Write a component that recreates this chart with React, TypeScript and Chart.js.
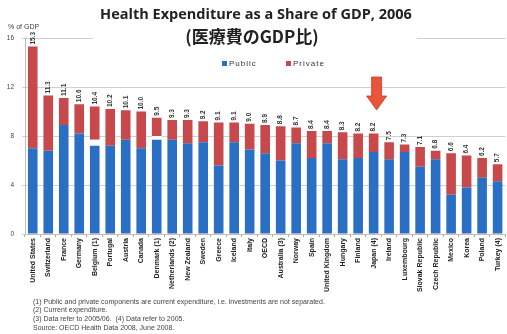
import React, { useEffect, useRef } from "react";
import { Chart, registerables } from "chart.js";

Chart.register(...registerables);

const categories = [
  "United States", "Switzerland", "France", "Germany", "Belgium (1)", "Portugal", "Austria", "Canada",
  "Denmark (1)", "Netherlands (2)", "New Zealand", "Sweden", "Greece", "Iceland", "Italy", "OECD",
  "Australia (3)", "Norway", "Spain", "United Kingdom", "Hungary", "Finland", "Japan (4)", "Ireland",
  "Luxembourg", "Slovak Republic", "Czech Republic", "Mexico", "Korea", "Poland", "Turkey (4)",
];

const totalShare = [
  15.3, 11.3, 11.1, 10.6, 10.4, 10.2, 10.1, 10.0, 9.5, 9.3, 9.3, 9.2, 9.1, 9.1, 9.0, 8.9,
  8.8, 8.7, 8.4, 8.4, 8.3, 8.2, 8.2, 7.5, 7.3, 7.1, 6.8, 6.6, 6.4, 6.2, 5.7,
];

const publicShare = [
  7.0, 6.8, 8.9, 8.2, 7.2, 7.2, 7.7, 7.0, 7.7, 7.7, 7.4, 7.5, 5.6, 7.5, 6.9, 6.6,
  6.0, 7.4, 6.2, 7.4, 6.1, 6.2, 6.7, 6.1, 6.7, 5.5, 6.1, 3.2, 3.8, 4.6, 4.3,
];

const gapShare = [
  0, 0, 0, 0, 0.5, 0, 0, 0, 0.3, 0, 0, 0, 0, 0, 0, 0,
  0, 0, 0, 0, 0, 0, 0, 0, 0, 0, 0, 0, 0, 0, 0,
];

const privateShare = totalShare.map((t, i) => +(t - publicShare[i] - gapShare[i]).toFixed(2));

const yTicks = [0, 4, 8, 12, 16];

const highlightIndex = 22;

const footnotes = [
  "(1) Public and private components are current expenditure, i.e. investments are not separated.",
  "(2) Current expenditure.",
  "(3) Data refer to 2005/06.  (4) Data refer to 2005.",
  "Source: OECD Health Data 2008, June 2008.",
];

const BLUE = "#2a6fc3";
const RED = "#c8494b";
const FONT = "'Liberation Sans', Arial, sans-serif";

const overlay = {
  id: "overlay",
  afterDatasetsDraw(chart: any) {
    const ctx = chart.ctx;
    const meta = chart.getDatasetMeta(0);
    const y = chart.scales.y;
    ctx.save();
    ctx.font = `bold 6.5px ${FONT}`;
    ctx.fillStyle = "#333";
    ctx.textAlign = "left";
    ctx.textBaseline = "middle";
    meta.data.forEach((el: any, i: number) => {
      const top = y.getPixelForValue(totalShare[i]);
      ctx.save();
      ctx.translate(el.x, top - 2);
      ctx.rotate(-Math.PI / 2);
      ctx.fillText(totalShare[i].toFixed(1), 0, 0);
      ctx.restore();
    });
    ctx.restore();
  },
  afterDraw(chart: any) {
    const ctx = chart.ctx;
    ctx.save();
    // cover gridline behind title
    ctx.fillStyle = "#ffffff";
    ctx.fillRect(93, 28, 324, 18);
    ctx.fillStyle = "#222";
    ctx.textAlign = "center";
    ctx.textBaseline = "middle";
    ctx.font = `bold 14.5px 'Open Sans', ${FONT}`;
    ctx.fillText("Health Expenditure as a Share of GDP, 2006", 256, 15);
    ctx.font = `bold 17px 'Noto Sans CJK JP', sans-serif`;
    ctx.fillText("(医療費のGDP比)", 252, 37);

    // legend
    ctx.font = `8px ${FONT}`;
    (ctx as any).letterSpacing = "1px";
    ctx.textAlign = "left";
    ctx.fillStyle = BLUE;
    ctx.fillRect(222, 61, 5, 5);
    ctx.fillStyle = "#333";
    ctx.fillText("Public", 229, 64);
    ctx.fillStyle = RED;
    ctx.fillRect(286, 61, 5, 5);
    ctx.fillStyle = "#333";
    ctx.fillText("Private", 293, 64);
    (ctx as any).letterSpacing = "0px";

    // axis unit
    ctx.font = `7px ${FONT}`;
    ctx.fillStyle = "#444";
    ctx.fillText("% of GDP", 8, 27);

    // footnotes
    ctx.font = `7px ${FONT}`;
    ctx.fillStyle = "#444";
    const ys = [302, 310.5, 319, 328];
    footnotes.forEach((t, i) => ctx.fillText(t, 33, ys[i]));

    // arrow
    const el = chart.getDatasetMeta(0).data[highlightIndex];
    const cx = el.x + 3;
    ctx.fillStyle = "#e8553b";
    ctx.strokeStyle = "#c83a26";
    ctx.lineWidth = 0.8;
    ctx.beginPath();
    ctx.moveTo(cx - 5, 77);
    ctx.lineTo(cx + 5, 77);
    ctx.lineTo(cx + 5, 96);
    ctx.lineTo(cx + 10, 96);
    ctx.lineTo(cx, 110);
    ctx.lineTo(cx - 10, 96);
    ctx.lineTo(cx - 5, 96);
    ctx.closePath();
    ctx.fill();
    ctx.stroke();
    ctx.restore();
  },
};

export default function App() {
  const ref = useRef<HTMLCanvasElement | null>(null);
  useEffect(() => {
    document.body.style.margin = "0";
    const chart = new Chart(ref.current as HTMLCanvasElement, {
      type: "bar",
      data: {
        labels: categories,
        datasets: [
          { label: "Public", data: publicShare, backgroundColor: BLUE, barPercentage: 0.62, categoryPercentage: 1 },
          { label: "Gap", data: gapShare, backgroundColor: "#ffffff", barPercentage: 0.62, categoryPercentage: 1 },
          { label: "Private", data: privateShare, backgroundColor: RED, barPercentage: 0.62, categoryPercentage: 1 },
        ],
      },
      options: {
        responsive: false,
        animation: false,
        layout: { padding: { top: 38, bottom: 36, left: 0, right: 0 } },
        plugins: { legend: { display: false }, tooltip: { enabled: false }, title: { display: false } },
        scales: {
          x: {
            stacked: true,
            grid: { display: true, drawOnChartArea: false, tickLength: 3, color: "#e0a060", offset: true },
            border: { color: "#bdbdbd" },
            ticks: {
              autoSkip: false,
              minRotation: 90,
              maxRotation: 90,
              padding: 1,
              color: "#222",
              font: { size: 7, weight: "bold", family: FONT },
            },
            afterFit: (s: any) => { s.height = 64; },
          },
          y: {
            stacked: true,
            min: 0,
            max: 16,
            afterBuildTicks: (s: any) => { s.ticks = yTicks.map((v) => ({ value: v })); },
            ticks: { color: "#444", padding: 8, font: { size: 6.5, family: FONT } },
            grid: { color: "#d0d0d0", tickLength: 3 },
            border: { display: true, color: "#bdbdbd" },
            afterFit: (s: any) => { s.width = 25; },
          },
        },
      },
      plugins: [overlay],
    });
    return () => chart.destroy();
  }, []);
  return <canvas ref={ref} width={507} height={334} style={{ display: "block" }} />;
}
